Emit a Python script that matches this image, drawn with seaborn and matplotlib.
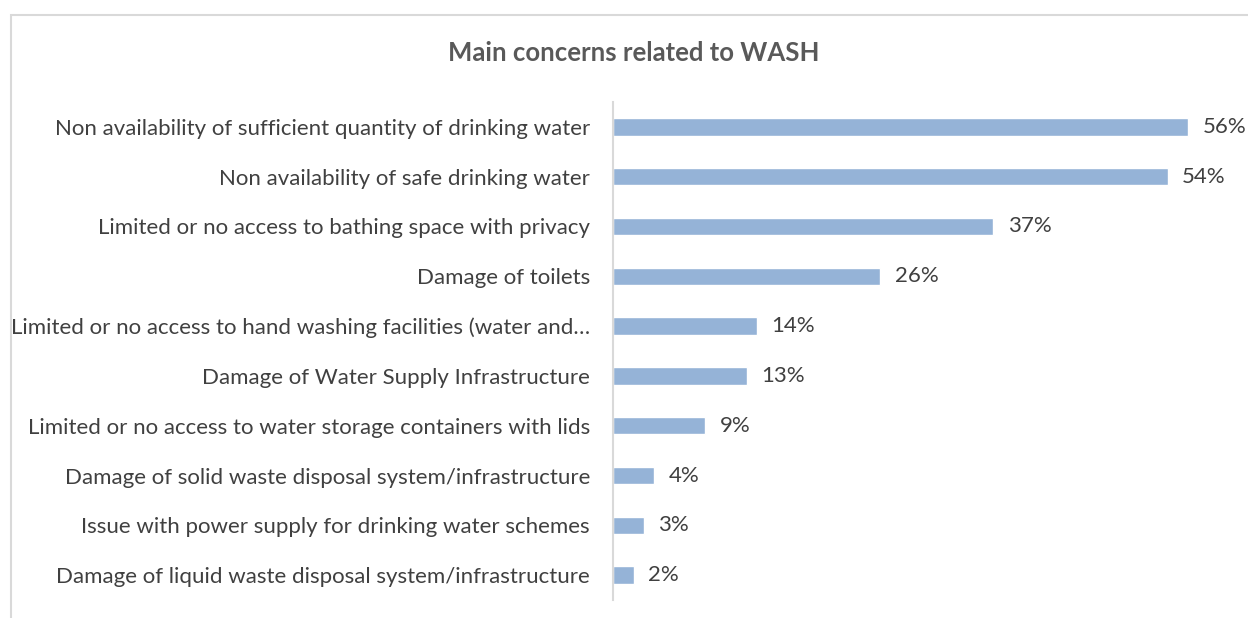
import matplotlib
matplotlib.use("Agg")
import matplotlib.pyplot as plt
from matplotlib.patches import Rectangle
import seaborn as sns
import pandas as pd

concerns = [
    "Non availability of sufficient quantity of drinking water",
    "Non availability of safe drinking water",
    "Limited or no access to bathing space with privacy",
    "Damage of toilets",
    "Limited or no access to hand washing facilities (water and\u2026",
    "Damage of Water Supply Infrastructure",
    "Limited or no access to water storage containers with lids",
    "Damage of solid waste disposal system/infrastructure",
    "Issue with power supply for drinking water schemes",
    "Damage of liquid waste disposal system/infrastructure",
]
shares = [56, 54, 37, 26, 14, 13, 9, 4, 3, 2]

df = pd.DataFrame({"concern": concerns, "share": shares})

sns.set_theme(style="white")
plt.rcParams["font.family"] = ["Lato", "DejaVu Sans"]

text_color = "#404040"
bar_color = "#95B3D7"

fig = plt.figure(figsize=(12.48, 6.18), dpi=100)
W, H = 1248, 618
ax = fig.add_axes([613 / W, 18 / H, (1240 - 613) / W, (600 - 102) / H])

sns.barplot(data=df, x="share", y="concern", orient="h", color=bar_color,
            saturation=1, width=0.35, ax=ax)

ax.set_xlim(0, 61.05)
ax.set_ylim(len(concerns) - 0.5, -0.5)
ax.set_xlabel("")
ax.set_ylabel("")
ax.set_xticks([])
ax.tick_params(axis="y", length=0, pad=16.5, labelsize=16, labelcolor=text_color)

for side in ("top", "right", "bottom"):
    ax.spines[side].set_visible(False)
ax.spines["left"].set_color("#d9d9d9")
ax.spines["left"].set_linewidth(1.5)

for i, v in enumerate(shares):
    ax.annotate(f"{v}%", xy=(v, i), xytext=(10.5, 0), textcoords="offset points",
                va="center", ha="left", fontsize=16, color=text_color)

fig.text(634 / W, 1 - 53 / H, "Main concerns related to WASH", ha="center",
         va="center", fontsize=18.5, fontweight="bold", color="#595959")

# chart frame, running off the right and bottom edges
fig.patches.append(Rectangle((11 / W, -0.05), 1.2, 1 - 15 / H + 0.05,
                             transform=fig.transFigure, fill=False,
                             edgecolor="#d9d9d9", linewidth=1.5))

fig.savefig("out.png", dpi=100, facecolor="white")
